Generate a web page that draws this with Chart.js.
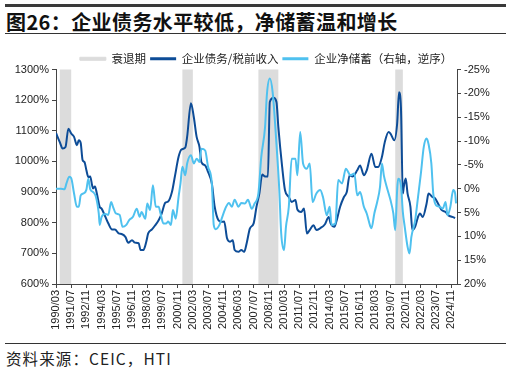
<!DOCTYPE html>
<html>
<head>
<meta charset="utf-8">
<script src="https://cdn.jsdelivr.net/npm/chart.js@4.4.1/dist/chart.umd.min.js"></script>
<style>
  html, body { margin: 0; padding: 0; background: #fff; }
  body { width: 512px; height: 372px; position: relative; overflow: hidden;
         font-family: "Noto Sans CJK SC", "Noto Sans", sans-serif; }
  #topline { position: absolute; left: 5px; top: 4px; width: 501px; height: 3px; background: #3a3a3a; }
  #title { position: absolute; left: 6px; top: 7px; font-size: 20px; font-weight: bold; color: #111; letter-spacing: 0.4px; white-space: nowrap; }
  #titleline { position: absolute; left: 5px; top: 33px; width: 501px; height: 1px; background: #333; }
  #botline { position: absolute; left: 5px; top: 343px; width: 501px; height: 1px; background: #333; }
  #source { position: absolute; left: 6px; top: 347px; font-size: 15.5px; letter-spacing: 1.1px; color: #222; white-space: nowrap; }
  #wrap { position: absolute; left: 10px; top: 38px; width: 512px; height: 302px; }
</style>
</head>
<body>
<div id="topline"></div>
<div id="title">图26：企业债务水平较低，净储蓄温和增长</div>
<div id="titleline"></div>
<div id="wrap"><canvas id="c"></canvas></div>
<div id="botline"></div>
<div id="source">资料来源：CEIC，HTI</div>
<script>
// ---- data ----
const xTickLabels = ['1990/03','1991/07','1992/11','1994/03','1995/07','1996/11','1998/03','1999/07','2000/11',
  '2002/03','2003/07','2004/11','2006/03','2007/07','2008/11','2010/03','2011/07','2012/11','2014/03',
  '2015/07','2016/11','2018/03','2019/07','2020/11','2022/03','2023/07','2024/11'];
const recessions = [['1990/07','1991/07'],['2001/04','2002/03'],['2007/12','2009/09'],['2019/12','2020/08']];

// 企业债务/税前收入 (%)
const debtDates = [
 '1990/03','1990/07','1990/10','1991/01','1991/04','1991/07','1991/10','1992/01','1992/03','1992/05',
 '1992/07','1992/09','1992/11','1993/01','1993/03','1993/05','1993/06','1993/08','1993/10','1994/01',
 '1994/03','1994/07','1994/10','1995/02','1995/05','1995/09','1995/12','1996/04','1996/07','1996/11',
 '1997/02','1997/06','1997/08','1997/11','1998/02','1998/04','1998/08','1998/11','1999/03','1999/06',
 '1999/10','2000/01','2000/05','2000/08','2000/12','2001/03','2001/07','2001/09','2002/01','2002/04',
 '2002/07','2002/10','2002/12','2003/04','2003/07','2003/11','2004/02','2004/06','2004/09','2004/12',
 '2005/03','2005/06','2005/09','2005/11','2006/03','2006/06','2006/09','2006/12','2007/03','2007/07',
 '2007/10','2008/01','2008/04','2008/07','2008/10','2008/12','2009/04','2009/07','2009/09','2010/01',
 '2010/04','2010/08','2010/11','2011/03','2011/05','2011/09','2011/12','2012/03','2012/06','2012/10',
 '2013/01','2013/05','2013/10','2014/02','2014/04','2014/08','2014/10','2015/02','2015/06','2015/09',
 '2015/12','2016/03','2016/08','2016/11','2017/03','2017/06','2017/11','2018/03','2018/06','2018/10',
 '2019/01','2019/05','2019/07','2019/11','2020/02','2020/04','2020/06','2020/08','2020/09','2020/11',
 '2021/01','2021/04','2021/06','2021/09','2021/12','2022/02','2022/05','2022/09','2022/11','2023/03',
 '2023/06','2023/10','2024/01','2024/05','2024/08','2024/12','2025/03'];
const debtValues = [
 1093,1063,1042,1047,1107,1091,1080,1053,1069,1060,
 1004,998,971,949,951,922,912,918,895,852,
 846,819,798,778,778,765,763,754,735,743,
 735,733,711,711,738,765,778,790,808,828,
 865,869,900,949,1015,1039,1045,1080,1190,1145,
 1080,1047,998,987,966,928,852,808,803,804,
 749,738,743,711,705,711,705,738,781,798,
 852,895,957,951,951,1194,1208,1194,1112,982,
 906,884,868,874,843,835,846,765,776,792,
 776,782,795,819,798,787,803,852,884,900,
 955,951,971,987,955,971,1025,982,982,1015,
 1063,1096,1091,1069,1123,1226,1177,895,917,944,
 895,852,776,787,819,830,819,863,895,884,
 879,857,841,835,824,819,815];

// 企业净储蓄 (%, 右轴, 逆序)
const savDates = [
 '1990/03','1990/08','1990/12','1991/02','1991/05','1991/07','1991/10','1992/01','1992/03','1992/05',
 '1992/08','1992/11','1993/01','1993/03','1993/06','1993/09','1993/12','1994/01','1994/03','1994/07',
 '1994/10','1995/01','1995/03','1995/06','1995/10','1996/01','1996/05','1996/08','1996/12','1997/04',
 '1997/07','1997/09','1998/01','1998/03','1998/06','1998/09','1998/12','1999/03','1999/05','1999/08',
 '1999/11','2000/01','2000/04','2000/06','2000/09','2000/12','2001/02','2001/04','2001/07','2001/09',
 '2002/01','2002/04','2002/07','2002/10','2002/12','2003/04','2003/07','2003/11','2004/01','2004/03',
 '2004/07','2004/10','2005/02','2005/05','2005/08','2005/11','2006/03','2006/06','2006/10','2007/01',
 '2007/05','2007/08','2007/12','2008/03','2008/07','2008/09','2008/12','2009/03','2009/07','2009/10',
 '2009/12','2010/03','2010/05','2010/08','2010/11','2011/03','2011/05','2011/08','2011/11','2012/03',
 '2012/06','2012/09','2013/01','2013/05','2013/08','2013/12','2014/03','2014/05','2014/09','2014/12',
 '2015/04','2015/08','2016/01','2016/05','2016/08','2016/11','2017/03','2017/06','2017/10','2017/11',
 '2018/02','2018/05','2018/08','2018/10','2018/12','2019/03','2019/07','2019/10','2019/12','2020/02',
 '2020/03','2020/06','2020/08','2020/10','2021/01','2021/03','2021/05','2021/09','2021/12','2022/03',
 '2022/06','2022/09','2022/11','2023/02','2023/04','2023/07','2023/11','2024/02','2024/05','2024/07',
 '2024/10','2025/01','2025/03','2025/04'];
const savValues = [
 0,0,0.1,-1.1,-2.5,-2.2,1,3.8,3.8,1.4,
 1.0,0.2,-2.1,0.1,0.7,1.7,5.2,7.6,5.9,5.3,
 5.5,2.8,3.8,5.2,5.5,8.0,7.6,6.6,5.9,4.2,
 5.9,4.9,6.3,3.1,4.5,-0.7,3.8,3.8,5.2,7.3,
 7.3,6.9,7.6,4.5,6.3,1.7,-1.1,-4.6,-2.8,-5.3,
 -7.0,-5.3,-6.3,-5.6,-8.4,-8.0,-4.6,-1.1,7.6,8.5,
 7.6,5.9,3.8,3.0,3.8,2.3,3.8,3.0,3.1,2.3,
 4.2,3.1,1.0,-6.6,-12.9,-19.9,-23.1,-20.2,-9.4,0.3,
 9.4,12.9,8.0,3.8,-6.3,-6.3,-2.8,-11.9,-5.3,-4.2,
 -5.3,2.8,1.0,0.3,1.8,5.6,3.8,7.6,7.3,-1.8,
 -1.1,-4.2,-2.8,-3.2,1.4,0.7,3.8,5.2,8.0,8.3,
 5.2,2.8,-0.4,-5.3,-2.8,-0.4,2.4,5.2,8.7,0.3,
 -2.1,-0.7,4.9,8.0,12.2,13.6,10.1,6.6,1.7,-3.2,
 -8.7,-10.5,-9.4,-5.3,1.0,3.5,3.8,4.2,2.8,5.6,
 3.8,0.3,1.0,3.1];

// ---- helpers ----
const toMonth = s => { const [y, m] = s.split('/').map(Number); return (y - 1990) * 12 + (m - 3); };
const pts = (ds, vs) => ds.map((d, i) => ({ x: toMonth(d), y: vs[i] }));

const DARK = '#0d4c97', LIGHT = '#4fc1ef', GREY = '#dcdcdc', AXIS = '#444';
const tickFont = { family: '"Liberation Sans", Arial, sans-serif', size: 11 };

const bandPlugin = {
  id: 'bands',
  beforeLayout(chart) {
    const lg = chart.legend;
    if (lg && !lg._trimmed) {
      const f = lg.fit.bind(lg);
      lg.fit = function () { f(); this.height = Math.max(0, this.height - 5); };
      lg._trimmed = true;
    }
  },
  beforeDatasetsDraw(chart) {
    const { ctx, chartArea: a, scales: { x } } = chart;
    ctx.save();
    ctx.fillStyle = GREY;
    recessions.forEach(([s, e]) => {
      const x0 = x.getPixelForValue(toMonth(s)), x1 = x.getPixelForValue(toMonth(e));
      ctx.fillRect(x0, a.top, x1 - x0, a.bottom - a.top);
    });
    ctx.restore();
  }
};

new Chart(document.getElementById('c'), {
  type: 'line',
  data: {
    datasets: [
      { label: '衰退期', data: [], backgroundColor: GREY, borderColor: GREY, yAxisID: 'y', order: 2 },
      { label: '企业债务/税前收入', data: pts(debtDates, debtValues), borderColor: DARK, backgroundColor: DARK,
        borderWidth: 2, pointRadius: 0, cubicInterpolationMode: 'monotone', yAxisID: 'y', order: 1 },
      { label: '企业净储蓄（右轴，逆序）', data: pts(savDates, savValues), borderColor: LIGHT, backgroundColor: LIGHT,
        borderWidth: 2, pointRadius: 0, cubicInterpolationMode: 'monotone', yAxisID: 'y1', order: 0 }
    ]
  },
  options: {
    responsive: true, maintainAspectRatio: false, animation: false,
    layout: { padding: { left: 0, right: 0, top: 11, bottom: 0 } },
    plugins: {
      tooltip: { enabled: false },
      legend: {
        position: 'top',
        labels: {
          font: { family: '"Noto Sans CJK SC", sans-serif', size: 11.5 },
          color: '#222', boxWidth: 26, boxHeight: 3, padding: 4,
          sort: (a, b) => a.datasetIndex - b.datasetIndex,
          generateLabels(chart) {
            const items = Chart.defaults.plugins.legend.labels.generateLabels(chart);
            items.forEach(it => {
              const ds = chart.data.datasets[it.datasetIndex];
              it.lineWidth = it.datasetIndex === 0 ? 1 : 0;
              it.strokeStyle = ds.borderColor;
              it.fillStyle = ds.borderColor;
            });
            return items;
          }
        }
      }
    },
    scales: {
      x: {
        type: 'linear', min: 0, max: 422,
        afterFit: s => { s.height = 56; },
        afterBuildTicks: s => { s.ticks = xTickLabels.map(l => ({ value: toMonth(l) })); },
        ticks: {
          includeBounds: false, autoSkip: false, maxRotation: 90, minRotation: 90,
          font: tickFont, color: '#222', padding: 2,
          callback: (v) => { const i = xTickLabels.findIndex(l => toMonth(l) === v); return i >= 0 ? xTickLabels[i] : ''; }
        },
        grid: { drawOnChartArea: false, drawTicks: true, tickLength: 4, color: AXIS },
        border: { color: AXIS, width: 1 }
      },
      y: {
        position: 'left', min: 600, max: 1300,
        afterFit: s => { s.width = 46; },
        ticks: { stepSize: 100, font: tickFont, color: '#222', padding: 3, callback: v => v + '%' },
        grid: { drawOnChartArea: false, drawTicks: true, tickLength: 4, color: AXIS },
        border: { color: AXIS, width: 1 }
      },
      y1: {
        position: 'right', min: -25, max: 20, reverse: true,
        afterFit: s => { s.width = 65; },
        ticks: { stepSize: 5, font: tickFont, color: '#222', padding: 3, callback: v => v + '%' },
        grid: { drawOnChartArea: false, drawTicks: true, tickLength: 4, color: AXIS },
        border: { color: AXIS, width: 1 }
      }
    }
  },
  plugins: [bandPlugin]
});
</script>
</body>
</html>
